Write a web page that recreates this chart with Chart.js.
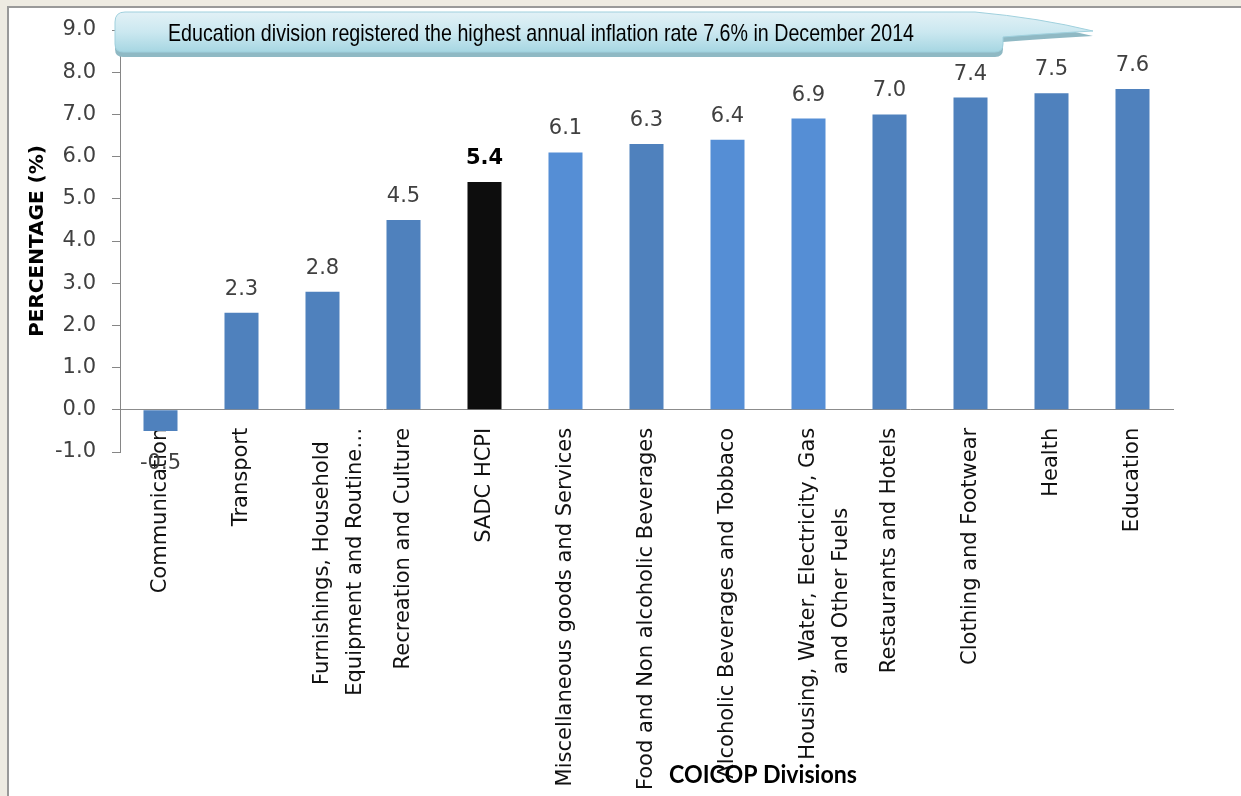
<!DOCTYPE html>
<html>
<head>
<meta charset="utf-8">
<script src="https://cdn.jsdelivr.net/npm/chart.js@4.4.1/dist/chart.umd.min.js"></script>
<style>
    html, body { margin: 0; padding: 0; background: #eeebe2; overflow: hidden; }
    #panel { position: absolute; left: 7px; top: 6px; width: 1260px; height: 820px; background: #fff;
             border-left: 2px solid #999; border-top: 2px solid #999; }
    #chart { position: absolute; left: 0; top: 0; }
</style>
</head>
<body>
<div id="panel"></div>
<canvas id="chart" width="1241" height="796"></canvas>
<script>
// Annual inflation by COICOP division, December 2014
const categories = [
    'Communication',
    'Transport',
    ['Furnishings, Household', 'Equipment and Routine…'],
    'Recreation and Culture',
    'SADC HCPI',
    'Miscellaneous goods and Services',
    'Food and Non alcoholic Beverages',
    'Alcoholic Beverages and Tobbaco',
    ['Housing, Water, Electricity, Gas', 'and Other Fuels'],
    'Restaurants and Hotels',
    'Clothing and Footwear',
    'Health',
    'Education',
];
const inflationRates = [-0.5, 2.3, 2.8, 4.5, 5.4, 6.1, 6.3, 6.4, 6.9, 7.0, 7.4, 7.5, 7.6];
const highlightCategory = 'SADC HCPI';

const calloutText = 'Education division registered the highest annual inflation rate 7.6% in December 2014';
const xAxisTitle = 'COICOP Divisions';
const yAxisTitle = 'PERCENTAGE (%)';

// bar shades (style only)
const shade = { dark: '#4f81bd', light: '#558ed5', black: '#0d0d0d' };
const barShades = ['dark', 'dark', 'dark', 'dark', 'black', 'light', 'dark', 'light', 'light', 'dark', 'dark', 'dark', 'dark'];

const tickFont = '21px "DejaVu Sans"';
const measureCtx = document.createElement('canvas').getContext('2d');
measureCtx.font = tickFont;

/**
 * Centre the shorter lines of a multi-line label (labels are right aligned when rotated)
 */
function centreLines(lines) {
    const widths = lines.map(l => measureCtx.measureText(l).width);
    const maxW = Math.max(...widths);
    const spaceW = measureCtx.measureText(' ').width;
    return lines.map((l, i) => l + ' '.repeat(Math.round((maxW - widths[i]) / 2 / spaceW)));
}

const dataLabels = {
    id: 'dataLabels',
    afterDatasetsDraw(chart) {
        const { ctx } = chart;
        const meta = chart.getDatasetMeta(0);
        ctx.save();
        ctx.textAlign = 'center';
        meta.data.forEach((bar, i) => {
            const v = inflationRates[i];
            const isHighlight = chart.data.labels[i] === highlightCategory;
            ctx.font = (isHighlight ? 'bold ' : '') + '21px "DejaVu Sans"';
            ctx.fillStyle = isHighlight ? '#000' : '#404040';
            if (v >= 0) {
                ctx.textBaseline = 'alphabetic';
                ctx.fillText(v.toFixed(1), bar.x, bar.y - 18);
            } else {
                ctx.textBaseline = 'top';
                ctx.fillText(v.toFixed(1), bar.x, bar.y + 22);
            }
        });
        ctx.restore();
    }
};

const decorations = {
    id: 'decorations',
    afterDraw(chart) {
        const { ctx } = chart;
        ctx.save();

        // callout bubble
        const shape = (dy) => {
            ctx.beginPath();
            ctx.moveTo(125, 12 + dy);
            ctx.lineTo(975, 12 + dy);
            ctx.quadraticCurveTo(1040, 18 + dy, 1093, 31 + dy);
            ctx.quadraticCurveTo(1040, 34 + dy, 1003, 37 + dy);
            ctx.lineTo(1003, 44 + dy);
            ctx.quadraticCurveTo(1003, 52 + dy, 995, 52 + dy);
            ctx.lineTo(123, 52 + dy);
            ctx.quadraticCurveTo(115, 52 + dy, 115, 44 + dy);
            ctx.lineTo(115, 22 + dy);
            ctx.quadraticCurveTo(115, 12 + dy, 125, 12 + dy);
            ctx.closePath();
        };
        shape(5);
        ctx.fillStyle = '#8fb9c4';
        ctx.fill();
        shape(0);
        const grad = ctx.createLinearGradient(0, 12, 0, 52);
        grad.addColorStop(0, '#e2f1f6');
        grad.addColorStop(0.5, '#cbe8f0');
        grad.addColorStop(1, '#a6d6e2');
        ctx.fillStyle = grad;
        ctx.fill();
        ctx.strokeStyle = '#9fd0dd';
        ctx.lineWidth = 1;
        ctx.stroke();

        ctx.fillStyle = '#000';
        ctx.textAlign = 'center';
        ctx.textBaseline = 'alphabetic';
        ctx.font = '24px "Liberation Sans Narrow", "Liberation Sans", sans-serif';
        let w = ctx.measureText(calloutText).width;
        ctx.save();
        ctx.translate(541, 41);
        ctx.scale(746 / w, 1);
        ctx.fillText(calloutText, 0, 0);
        ctx.restore();

        // x axis title
        ctx.font = 'bold 24px Lato, "Liberation Sans", sans-serif';
        w = ctx.measureText(xAxisTitle).width;
        ctx.save();
        ctx.translate(763, 783);
        ctx.scale(188 / w, 1);
        ctx.fillText(xAxisTitle, 0, 0);
        ctx.restore();

        ctx.restore();
    }
};

Chart.defaults.font.family = '"DejaVu Sans", sans-serif';

new Chart(document.getElementById('chart'), {
    type: 'bar',
    data: {
        labels: categories,
        datasets: [{
            data: inflationRates,
            backgroundColor: barShades.map(s => shade[s]),
            borderWidth: 0,
            categoryPercentage: 1,
            barPercentage: 0.42,
        }]
    },
    options: {
        responsive: false,
        animation: false,
        devicePixelRatio: 1,
        layout: { padding: { left: 0, top: 30, right: 68, bottom: 344 } },
        plugins: {
            legend: { display: false },
            tooltip: { enabled: false },
        },
        scales: {
            x: {
                position: { y: 0 },
                grid: { display: false },
                border: { display: true, color: '#8c8c8c', width: 1 },
                ticks: {
                    autoSkip: false,
                    minRotation: 90,
                    maxRotation: 90,
                    padding: 10,
                    color: '#111',
                    font: { size: 21, lineHeight: 1.55 },
                    callback: function (value) {
                        const label = this.getLabelForValue(value);
                        return Array.isArray(label) ? centreLines(label) : label;
                    }
                },
                afterFit: (scale) => { scale.height = 0; }
            },
            y: {
                min: -1,
                max: 9,
                grid: { drawOnChartArea: false, color: '#868686', tickLength: 8 },
                border: { display: true, color: '#868686', width: 1 },
                ticks: {
                    stepSize: 1,
                    padding: 16,
                    color: '#404040',
                    font: { size: 21 },
                    callback: (v) => v.toFixed(1)
                },
                title: {
                    display: true,
                    text: yAxisTitle,
                    color: '#000',
                    font: { size: 20, weight: 'bold' },
                    padding: { top: 26, bottom: 0 }
                },
                afterFit: (scale) => { scale.width = 120; }
            }
        }
    },
    plugins: [dataLabels, decorations]
});
</script>
</body>
</html>
